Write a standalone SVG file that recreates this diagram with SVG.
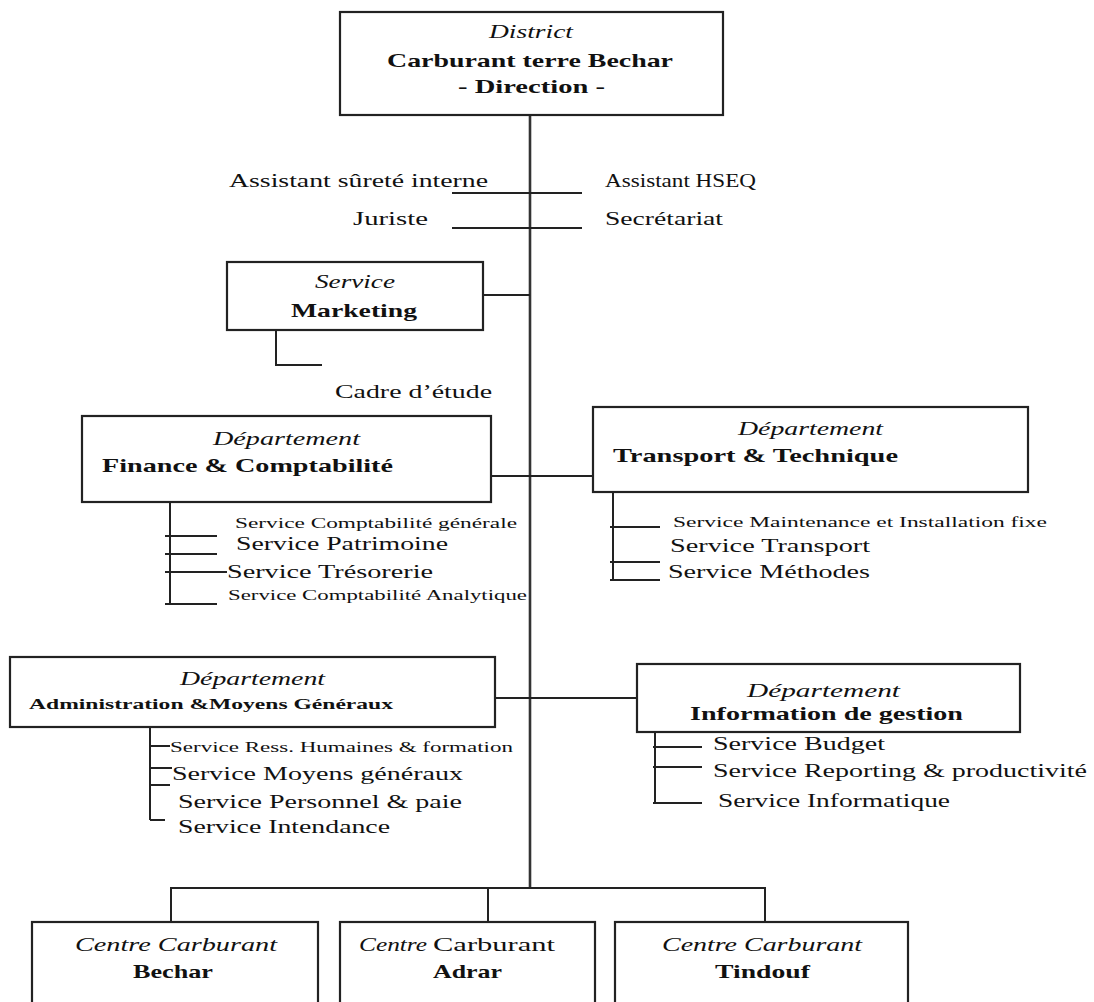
<svg xmlns="http://www.w3.org/2000/svg" width="1094" height="1002" viewBox="0 0 1094 1002">
<style>
.box{fill:#fff;stroke:#222;stroke-width:2.2}
.ln{stroke:#222;stroke-width:2;fill:none}
.main{stroke:#333;stroke-width:2.6;fill:none}
text{font-family:"Liberation Serif","Times New Roman",serif;fill:#111;font-size:19px}
.i{font-style:italic}
.b{font-weight:bold}
.s{font-size:15px}
</style>
<rect width="1094" height="1002" fill="#fff"/>
<g id="connectors">
<path class="main" d="M530 115V888"/>
<path class="ln" d="M452 193H582M452 228H582"/>
<path class="ln" d="M483 295H530"/>
<path class="ln" d="M276 330V365H322"/>
<path class="ln" d="M491 476H593"/>
<path class="ln" d="M170 502V604M165 536H217M165 554H217M165 572H227M165 604H217"/>
<path class="ln" d="M613 492V580M610 527H660M610 562H660M610 580H660"/>
<path class="ln" d="M495 698H637"/>
<path class="ln" d="M150 717V820M150 746H170M150 768H172M150 785H170M150 820H165"/>
<path class="ln" d="M655 732V803M653 747H702M653 767H702M653 803H702"/>
<path class="ln" d="M171 922V888H765V922M488 888V922"/>
</g>
<g id="direction">
<rect class="box" x="340" y="12" width="383" height="103"/>
<text class="i" x="489" y="38" textLength="84" lengthAdjust="spacingAndGlyphs">District</text>
<text class="b" x="387" y="67" font-size="20" textLength="286" lengthAdjust="spacingAndGlyphs">Carburant terre Bechar</text>
<text class="b" x="458" y="93" font-size="20" textLength="147" lengthAdjust="spacingAndGlyphs">- Direction -</text>
</g>
<g id="assistant-surete"><text x="229" y="187" textLength="259" lengthAdjust="spacingAndGlyphs">Assistant sûreté interne</text></g>
<g id="assistant-hseq"><text x="605" y="187" textLength="151" lengthAdjust="spacingAndGlyphs">Assistant HSEQ</text></g>
<g id="juriste"><text x="353" y="225" textLength="75" lengthAdjust="spacingAndGlyphs">Juriste</text></g>
<g id="secretariat"><text x="605" y="225" textLength="118" lengthAdjust="spacingAndGlyphs">Secrétariat</text></g>
<g id="marketing">
<rect class="box" x="227" y="262" width="256" height="68"/>
<text class="i" x="315" y="288" textLength="80" lengthAdjust="spacingAndGlyphs">Service</text>
<text class="b" x="291" y="317" font-size="20" textLength="126" lengthAdjust="spacingAndGlyphs">Marketing</text>
</g>
<g id="cadre-etude"><text x="335" y="398" textLength="157" lengthAdjust="spacingAndGlyphs">Cadre d’étude</text></g>
<g id="finance">
<rect class="box" x="82" y="416" width="409" height="86"/>
<text class="i" x="213" y="445" textLength="147" lengthAdjust="spacingAndGlyphs">Département</text>
<text class="b" x="102" y="472" textLength="291" lengthAdjust="spacingAndGlyphs">Finance &amp; Comptabilité</text>
</g>
<g id="finance-services">
<text class="s" x="235" y="528" textLength="282" lengthAdjust="spacingAndGlyphs">Service Comptabilité générale</text>
<text x="236" y="550" textLength="212" lengthAdjust="spacingAndGlyphs">Service Patrimoine</text>
<text x="227" y="578" textLength="206" lengthAdjust="spacingAndGlyphs">Service Trésorerie</text>
<text class="s" x="228" y="600" textLength="299" lengthAdjust="spacingAndGlyphs">Service Comptabilité Analytique</text>
</g>
<g id="transport">
<rect class="box" x="593" y="407" width="435" height="85"/>
<text class="i" x="738" y="435" textLength="145" lengthAdjust="spacingAndGlyphs">Département</text>
<text class="b" x="613" y="462" textLength="285" lengthAdjust="spacingAndGlyphs">Transport &amp; Technique</text>
</g>
<g id="transport-services">
<text class="s" x="673" y="527" textLength="374" lengthAdjust="spacingAndGlyphs">Service Maintenance et Installation fixe</text>
<text x="670" y="552" textLength="200" lengthAdjust="spacingAndGlyphs">Service Transport</text>
<text x="668" y="578" textLength="202" lengthAdjust="spacingAndGlyphs">Service Méthodes</text>
</g>
<g id="administration">
<rect class="box" x="10" y="657" width="485" height="70"/>
<text class="i" x="180" y="685" textLength="145" lengthAdjust="spacingAndGlyphs">Département</text>
<text class="b s" x="29" y="709" textLength="364" lengthAdjust="spacingAndGlyphs">Administration &amp;Moyens Généraux</text>
</g>
<g id="administration-services">
<text class="s" x="170" y="752" textLength="343" lengthAdjust="spacingAndGlyphs">Service Ress. Humaines &amp; formation</text>
<text x="172" y="780" textLength="291" lengthAdjust="spacingAndGlyphs">Service Moyens généraux</text>
<text x="178" y="808" textLength="284" lengthAdjust="spacingAndGlyphs">Service Personnel &amp; paie</text>
<text x="178" y="833" textLength="212" lengthAdjust="spacingAndGlyphs">Service Intendance</text>
</g>
<g id="information">
<rect class="box" x="637" y="664" width="383" height="68"/>
<text class="i" x="747" y="697" font-size="18" textLength="153" lengthAdjust="spacingAndGlyphs">Département</text>
<text class="b" x="690" y="720" textLength="273" lengthAdjust="spacingAndGlyphs">Information de gestion</text>
</g>
<g id="information-services">
<text x="713" y="750" textLength="172" lengthAdjust="spacingAndGlyphs">Service Budget</text>
<text x="713" y="777" textLength="374" lengthAdjust="spacingAndGlyphs">Service Reporting &amp; productivité</text>
<text x="718" y="807" textLength="232" lengthAdjust="spacingAndGlyphs">Service Informatique</text>
</g>
<g id="centre-bechar">
<rect class="box" x="32" y="922" width="286" height="95"/>
<text class="i" x="75" y="951" textLength="202" lengthAdjust="spacingAndGlyphs">Centre Carburant</text>
<text class="b" x="133" y="978" textLength="80" lengthAdjust="spacingAndGlyphs">Bechar</text>
</g>
<g id="centre-adrar">
<rect class="box" x="340" y="922" width="255" height="95"/>
<text class="i" x="359" y="951" textLength="68" lengthAdjust="spacingAndGlyphs">Centre</text>
<text x="433" y="951" textLength="122" lengthAdjust="spacingAndGlyphs">Carburant</text>
<text class="b" x="433" y="978" textLength="69" lengthAdjust="spacingAndGlyphs">Adrar</text>
</g>
<g id="centre-tindouf">
<rect class="box" x="615" y="922" width="293" height="95"/>
<text class="i" x="662" y="951" textLength="200" lengthAdjust="spacingAndGlyphs">Centre Carburant</text>
<text class="b" x="715" y="978" textLength="95" lengthAdjust="spacingAndGlyphs">Tindouf</text>
</g>
</svg>
